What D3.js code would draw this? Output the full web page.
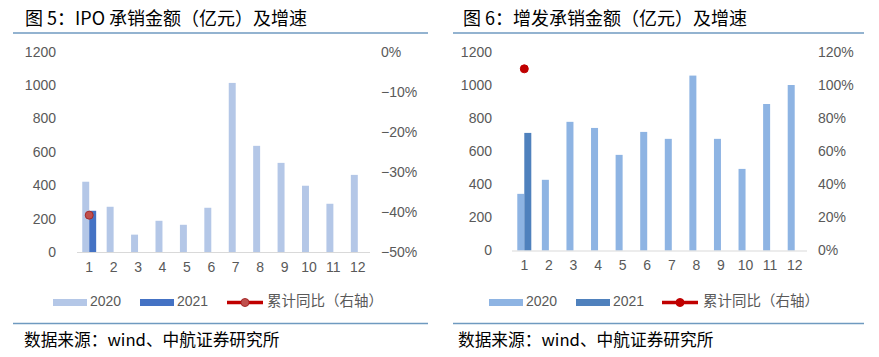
<!DOCTYPE html>
<html><head><meta charset="utf-8">
<script src="https://cdn.jsdelivr.net/npm/d3@7"></script>
<style>
body{margin:0;background:#fff;}
svg{display:block;}
text{font-family:"Liberation Sans",Arial,sans-serif;}
.cjk{font-family:"Noto Sans CJK SC",sans-serif;}
</style></head>
<body>
<svg id="c" width="879" height="357"></svg>
<script>
const months = ["1","2","3","4","5","6","7","8","9","10","11","12"];
const seriesNames = ["2020","2021"];

// Chart 5: IPO underwriting amount (100M CNY)
const ipo2020 = [421,271,104,187,163,265,1013,636,534,397,289,462];
const ipo2021 = [247,null,null,null,null,null,null,null,null,null,null,null];
const ipoYoY = [-40.8,null,null,null,null,null,null,null,null,null,null,null];
const ipoLeftTicks = [0,200,400,600,800,1000,1200];
const ipoRightTicks = [-50,-40,-30,-20,-10,0];

// Chart 6: Follow-on offering underwriting amount
const seo2020 = [343,428,779,742,579,718,676,1059,676,494,887,1002];
const seo2021 = [712,null,null,null,null,null,null,null,null,null,null,null];
const seoYoY = [110,null,null,null,null,null,null,null,null,null,null,null];
const seoLeftTicks = [0,200,400,600,800,1000,1200];
const seoRightTicks = [0,20,40,60,80,100,120];

const svg = d3.select("#c");

function drawChart(o){
  const g = svg.append("g");
  // title
  g.append("text").attr("class","cjk").attr("x",o.titleX).attr("y",20)
    .attr("dominant-baseline","middle").attr("font-size",18).attr("fill","#000")
    .text(o.title);
  // separators
  g.append("line").attr("x1",o.sepX0).attr("x2",o.sepX1).attr("y1",33).attr("y2",33)
    .attr("stroke","#6f9ac0").attr("stroke-width",1.3);
  g.append("line").attr("x1",o.sepX0).attr("x2",o.sepX1).attr("y1",323.5).attr("y2",323.5)
    .attr("stroke","#6f9ac0").attr("stroke-width",1.3);

  const x = d3.scaleBand().domain(months).range([o.x0,o.x1]).paddingInner(0.43).paddingOuter(0.215);
  const xs = d3.scaleBand().domain(seriesNames).range([0,x.bandwidth()]);
  const y = d3.scaleLinear().domain([0,1200]).range([o.yb,o.yt]);
  const yr = d3.scaleLinear().domain(o.rdom).range([o.yb,o.yt]);

  // left axis
  const la = g.append("g").attr("transform",`translate(${o.lx},0)`)
    .call(d3.axisLeft(y).tickValues(o.lt).tickSize(0).tickPadding(0).tickFormat(d3.format("d")));
  la.select(".domain").remove();
  la.selectAll("text").attr("font-size",14).attr("fill","#595959").attr("font-family","Liberation Sans, Arial, sans-serif");
  // right axis
  const ra = g.append("g").attr("transform",`translate(${o.rx},0)`)
    .call(d3.axisRight(yr).tickValues(o.rt).tickSize(0).tickPadding(0)
      .tickFormat(d => (d<0?"\u2212"+(-d):d)+"%"));
  ra.select(".domain").remove();
  ra.selectAll("text").attr("font-size",14).attr("fill","#595959").attr("font-family","Liberation Sans, Arial, sans-serif");

  // bars
  const data = months.map((m,i)=>({m, v:[o.s20[i],o.s21[i]]}));
  seriesNames.forEach((s,si)=>{
    g.append("g").selectAll("rect").data(data.filter(d=>d.v[si]!=null)).join("rect")
      .attr("x",d=>x(d.m)+xs(s)).attr("width",xs.bandwidth())
      .attr("y",d=>y(d.v[si])).attr("height",d=>o.yb-y(d.v[si]))
      .attr("fill",o.colors[si]);
  });
  // baseline
  g.append("line").attr("x1",o.x0).attr("x2",o.x1).attr("y1",o.yb+0.5).attr("y2",o.yb+0.5)
    .attr("stroke","#d9d9d9").attr("stroke-width",1);
  // x axis labels
  const xa = g.append("g").attr("transform",`translate(0,${o.yb+10})`)
    .call(d3.axisBottom(x).tickSize(0).tickPadding(0));
  xa.select(".domain").remove();
  xa.selectAll("text").attr("font-size",14).attr("fill","#595959").attr("font-family","Liberation Sans, Arial, sans-serif");

  // yoy dots
  g.append("g").selectAll("circle").data(months.map((m,i)=>({m,v:o.yoy[i]})).filter(d=>d.v!=null))
    .join("circle").attr("cx",d=>x(d.m)+x.bandwidth()/2).attr("cy",d=>yr(d.v)).attr("r",4)
    .attr("fill",o.dotFill).attr("stroke",o.dotStroke).attr("stroke-width",1);

  // legend
  const ly = 302.5;
  const L = o.leg;
  g.append("rect").attr("x",L[0]).attr("y",ly-3.5).attr("width",34).attr("height",7).attr("fill",o.colors[0]);
  g.append("text").attr("x",L[1]).attr("y",ly).attr("dominant-baseline","middle").attr("font-size",14).attr("fill","#595959").text(seriesNames[0]);
  g.append("rect").attr("x",L[2]).attr("y",ly-3.5).attr("width",34).attr("height",7).attr("fill",o.colors[1]);
  g.append("text").attr("x",L[3]).attr("y",ly).attr("dominant-baseline","middle").attr("font-size",14).attr("fill","#595959").text(seriesNames[1]);
  g.append("line").attr("x1",L[4]).attr("x2",L[4]+36).attr("y1",ly).attr("y2",ly).attr("stroke","#c00000").attr("stroke-width",3.5);
  g.append("circle").attr("cx",L[4]+18).attr("cy",ly).attr("r",4).attr("fill",o.dotFill).attr("stroke",o.dotStroke);
  g.append("text").attr("class","cjk").attr("x",L[5]).attr("y",ly).attr("dominant-baseline","middle").attr("font-size",14.5).attr("fill","#595959").text("累计同比（右轴）");

  // source
  g.append("text").attr("class","cjk").attr("x",o.srcX).attr("y",341).attr("dominant-baseline","middle")
    .attr("font-size",16.7).attr("fill","#000").text("数据来源：wind、中航证券研究所");
}

drawChart({
  title:"图 5：IPO 承销金额（亿元）及增速", titleX:25, sepX0:13, sepX1:428,
  x0:77, x1:370, yb:252, yt:51.7, lx:56, rx:381,
  rdom:[-50,0], lt:ipoLeftTicks, rt:ipoRightTicks,
  s20:ipo2020, s21:ipo2021, yoy:ipoYoY,
  colors:["#b4c7e7","#4472c4"], dotFill:"#c0504d", dotStroke:"#a52a2a",
  leg:[53,90,140,177,227,267], srcX:24
});
drawChart({
  title:"图 6：增发承销金额（亿元）及增速", titleX:463, sepX0:453, sepX1:864,
  x0:512, x1:807, yb:250.5, yt:52.3, lx:492, rx:818,
  rdom:[0,120], lt:seoLeftTicks, rt:seoRightTicks,
  s20:seo2020, s21:seo2021, yoy:seoYoY,
  colors:["#8eb4e3","#4f81bd"], dotFill:"#c00000", dotStroke:"#c00000",
  leg:[489,526,576,613,662,703], srcX:458
});
</script>
</body></html>
